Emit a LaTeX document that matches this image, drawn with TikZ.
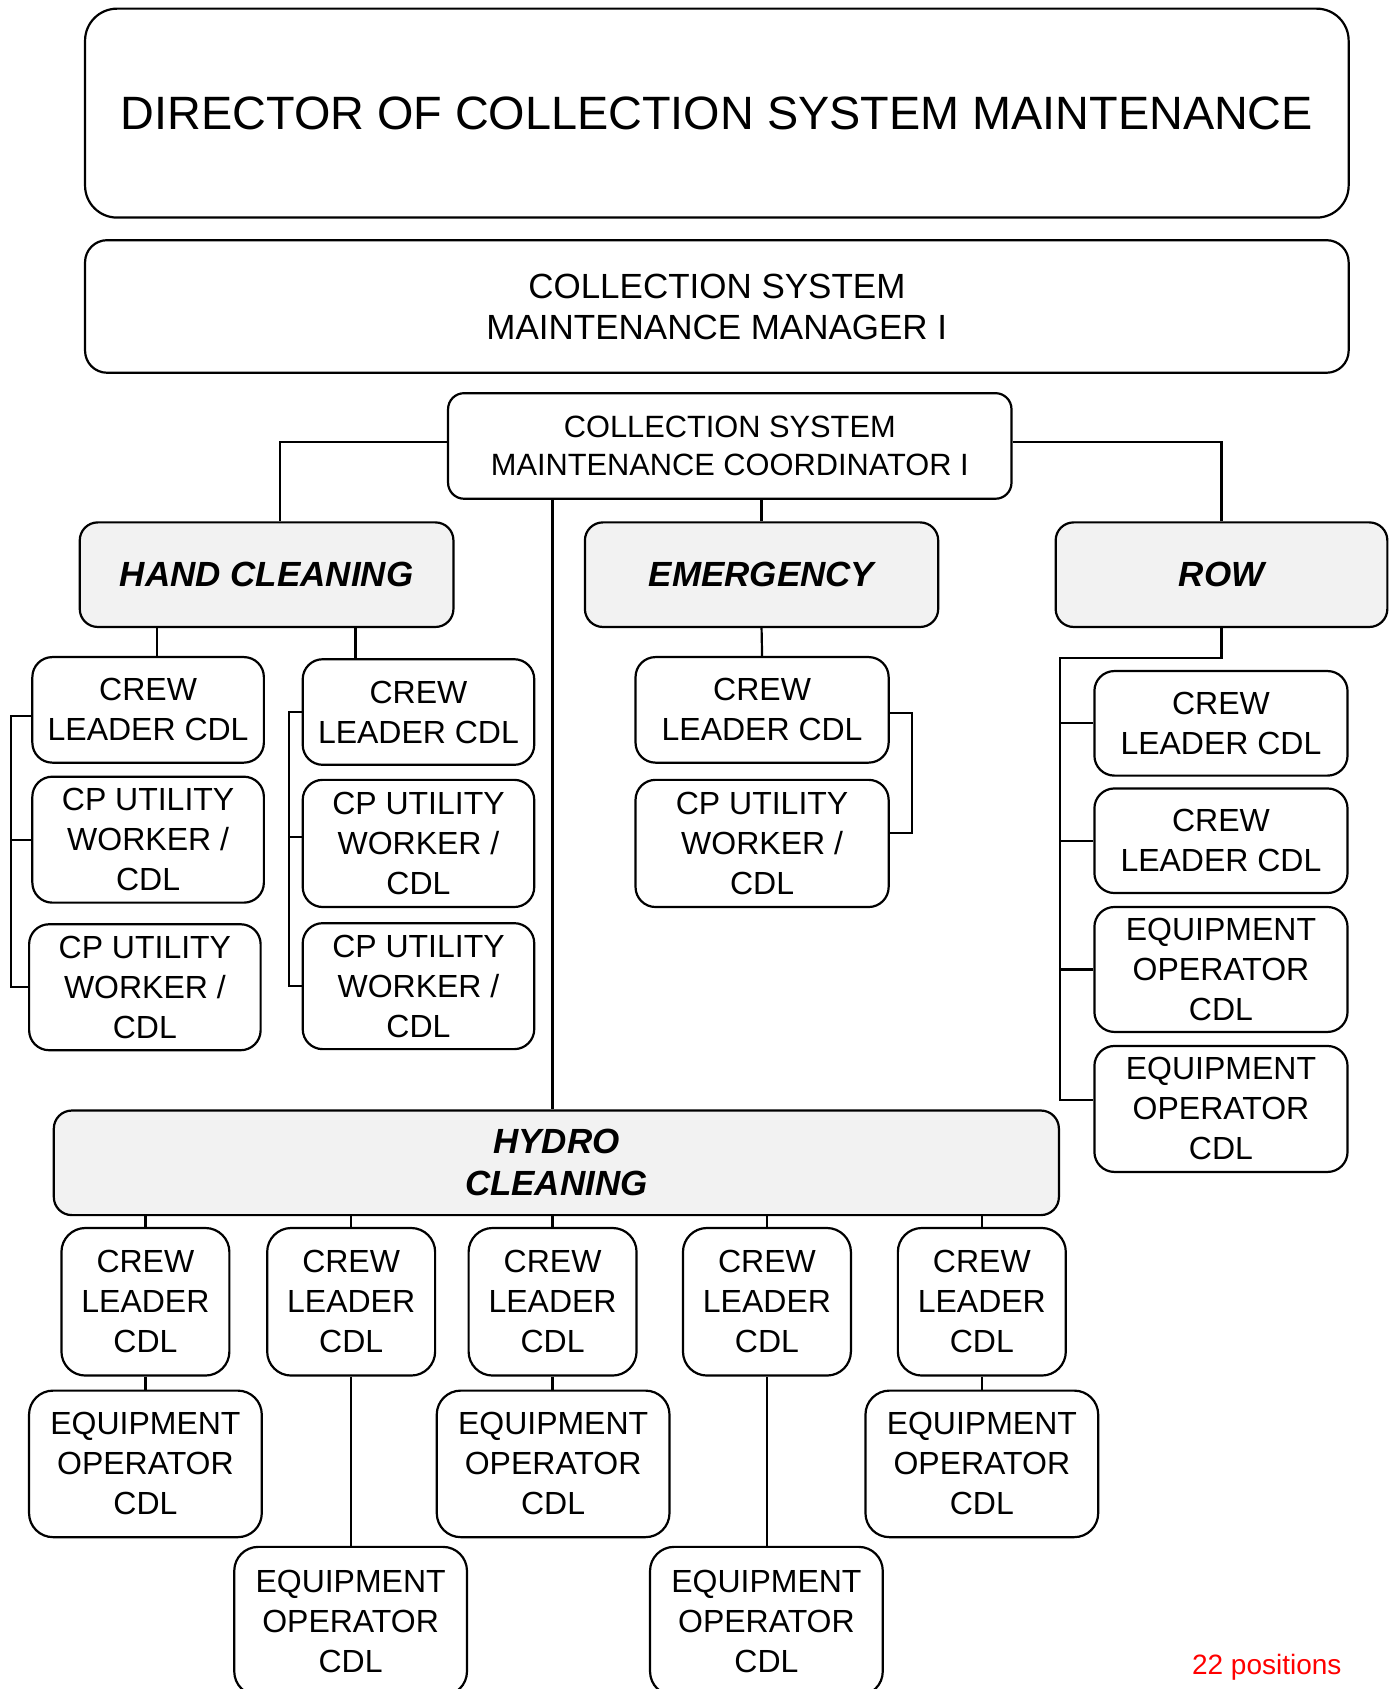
\documentclass[tikz,border=0pt]{standalone}
\usepackage{fontspec}
\setmainfont{Liberation Sans}

\tikzset{
  post/.style={draw, line width=1.1pt, rounded corners=10pt, align=center,
    inner sep=0pt, minimum width=115.8pt, font=\fontsize{16}{20}\selectfont},
  unit/.style={post, fill=black!5, rounded corners=9pt, minimum height=52.3pt,
    font=\fontsize{17.5}{21}\selectfont\bfseries\itshape},
  crew/.style={post, rounded corners=12pt, minimum width=84pt, minimum height=73.8pt},
  oper/.style={post, rounded corners=12pt, minimum width=116.4pt, minimum height=73.3pt},
  link/.style={line width=1.1pt},
}

\begin{document}
\begin{tikzpicture}[x=0.53875pt, y=-0.53875pt]
\clip (0,0) rectangle (1291,1568);

% top of the chart
\node[post, rounded corners=16pt, minimum width=632pt, minimum height=104.5pt,
  font=\fontsize{23.4}{28}\selectfont] (dir) at (665.5,105)
  {DIRECTOR OF COLLECTION SYSTEM MAINTENANCE};
\node[post, rounded corners=11pt, minimum width=632pt, minimum height=66.3pt,
  font=\fontsize{17.5}{20.5}\selectfont] (mgr) at (665.5,284.5)
  {COLLECTION SYSTEM\\MAINTENANCE MANAGER I};
\node[post, rounded corners=8pt, minimum width=281.8pt, minimum height=52.8pt,
  font=\fontsize{15.4}{18.9}\selectfont] (coord) at (677.5,414)
  {COLLECTION SYSTEM\\MAINTENANCE COORDINATOR I};

% crews
\node[unit, minimum width=186.9pt] (hand) at (247.5,533.5) {HAND CLEANING};
\node[unit, minimum width=176.7pt] (emer) at (707,533.5) {EMERGENCY};
\node[unit, minimum width=165.9pt] (row) at (1134,533.5) {ROW};
\node[unit, minimum width=502.7pt] (hydro) at (516.5,1079.5) {HYDRO\\CLEANING};

% hand cleaning
\node[post, minimum height=52.8pt] (hc1) at (137.5,659) {CREW\\LEADER CDL};
\node[post, minimum height=63pt] (hu1) at (137.5,779.5) {CP UTILITY\\WORKER /\\CDL};
\node[post, minimum height=63pt] (hu2) at (134.5,916.5) {CP UTILITY\\WORKER /\\CDL};
\node[post, minimum height=52.8pt] (hc2) at (388.5,661) {CREW\\LEADER CDL};
\node[post, minimum height=63.6pt] (hu3) at (388.5,783) {CP UTILITY\\WORKER /\\CDL};
\node[post, minimum height=63pt] (hu4) at (388.5,915.5) {CP UTILITY\\WORKER /\\CDL};

% emergency
\node[post, minimum width=126.6pt, minimum height=52.8pt] (ec) at (707.5,659) {CREW\\LEADER CDL};
\node[post, minimum width=126.6pt, minimum height=63.6pt] (eu) at (707.5,783) {CP UTILITY\\WORKER /\\CDL};

% row
\node[post, minimum width=126.6pt, minimum height=52.3pt] (rc1) at (1133.5,671.5) {CREW\\LEADER CDL};
\node[post, minimum width=126.6pt, minimum height=52.3pt] (rc2) at (1133.5,780.5) {CREW\\LEADER CDL};
\node[post, minimum width=126.6pt, minimum height=62.5pt] (re1) at (1133.5,900) {EQUIPMENT\\OPERATOR\\CDL};
\node[post, minimum width=126.6pt, minimum height=63pt] (re2) at (1133.5,1029.5) {EQUIPMENT\\OPERATOR\\CDL};

% hydro cleaning
\foreach \i/\x in {1/135,2/326,3/513,4/712,5/911.5}
  \node[crew] (hl\i) at (\x,1208.5) {CREW\\LEADER\\CDL};
\foreach \i/\x in {1/135,3/513.5,5/911.5}
  \node[oper] (ho\i) at (\x,1359) {EQUIPMENT\\OPERATOR\\CDL};
\foreach \i/\x in {2/325.5,4/711.5}
  \node[oper, minimum height=74.3pt] (ho\i) at (\x,1505) {EQUIPMENT\\OPERATOR\\CDL};

\node[text=red, font=\fontsize{14}{16}\selectfont] (count) at (1176,1548) {22 positions};

% lines
\draw[link] (coord.west |- 0,410) -| (260,0 |- hand.north);
\draw[link] (coord.east |- 0,410) -| (row.north);
\draw[link] (coord.south -| emer.north) -- (emer.north);
\draw[link] (coord.south -| 513,0) -- (hydro.north -| 513,0);

\draw[link] (hand.south -| 146,0) -- (hc1.north -| 146,0);
\draw[link] (hand.south -| 330,0) -- (hc2.north -| 330,0);
\draw[link] (hc1.west |- 0,665) -| (10,0 |- hu2.west) -- (hu2.west);
\draw[link] (hu1.west) -- (hu1.west -| 10,0);
\draw[link] (hc2.west) -| (268,0 |- hu4.west) -- (hu4.west);
\draw[link] (hu3.west |- 0,777) -- (268,777);

\draw[link] (emer.south) -- (ec.north);
\draw[link] (ec.east |- 0,662) -| (847,773) -- (eu.east |- 0,773);

\draw[link] (row.south) |- (984,611) |- (re2.west |- 0,1021);
\foreach \n in {rc1,rc2,re1}
  \draw[link] (\n.west) -- (\n.west -| 984,0);

\foreach \i in {1,...,5} {
  \draw[link] (hydro.south -| hl\i.north) -- (hl\i.north);
  \draw[link] (hl\i.south) -- (hl\i.south |- ho\i.north);
}
\end{tikzpicture}
\end{document}
